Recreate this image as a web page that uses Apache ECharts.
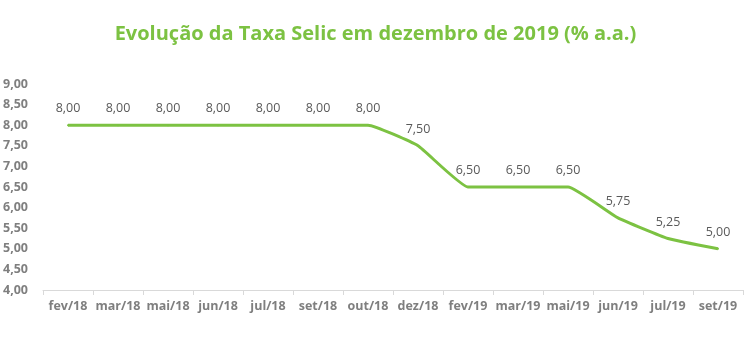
<!DOCTYPE html>
<html><head><meta charset="utf-8">
<script src="https://cdn.jsdelivr.net/npm/echarts@6/dist/echarts.min.js"></script>
<style>html,body{margin:0;padding:0;background:#fff}#c{width:751px;height:357px}</style>
</head><body><div id="c"></div>
<script>
const categories = ["fev/18","mar/18","mai/18","jun/18","jul/18","set/18","out/18","dez/18","fev/19","mar/19","mai/19","jun/19","jul/19","set/19"];
const selic = [8.00,8.00,8.00,8.00,8.00,8.00,8.00,7.50,6.50,6.50,6.50,5.75,5.25,5.00];
const titleText = "Evolução da Taxa Selic em dezembro de 2019 (% a.a.)";
const fmt = v => v.toFixed(2).replace('.', ',');
const chart = echarts.init(document.getElementById('c'));
chart.setOption({
  animation:false,
  title:{text:titleText,left:'center',top:19,textStyle:{color:'#7cc242',fontSize:20,fontWeight:'bold',fontFamily:'Open Sans'}},
  grid:{left:43,right:8,top:84,bottom:67},
  xAxis:{type:'category',data:categories,boundaryGap:true,
    axisLine:{lineStyle:{color:'#d9d9d9'}},
    axisTick:{show:true,lineStyle:{color:'#d9d9d9'},length:5},
    axisLabel:{color:'#7f7f7f',fontWeight:'bold',fontSize:12.5,fontFamily:'Open Sans',margin:10,interval:0}},
  yAxis:{type:'value',min:4,max:9,interval:0.5,
    axisLine:{show:false},axisTick:{show:false},splitLine:{show:false},
    axisLabel:{color:'#7f7f7f',fontWeight:'bold',fontSize:12.5,fontFamily:'Open Sans',align:'left',margin:40,formatter:v=>fmt(v)}},
  series:[{type:'line',data:selic,smooth:0.12,symbol:'circle',symbolSize:2,showSymbol:true,
    itemStyle:{color:'#7cc242'},
    lineStyle:{color:'#7cc242',width:3},
    label:{show:true,position:'top',distance:9,color:'#595959',fontSize:12.5,fontFamily:'Open Sans',
      formatter:p=>fmt(Number(p.value))}}]
});
</script></body></html>
